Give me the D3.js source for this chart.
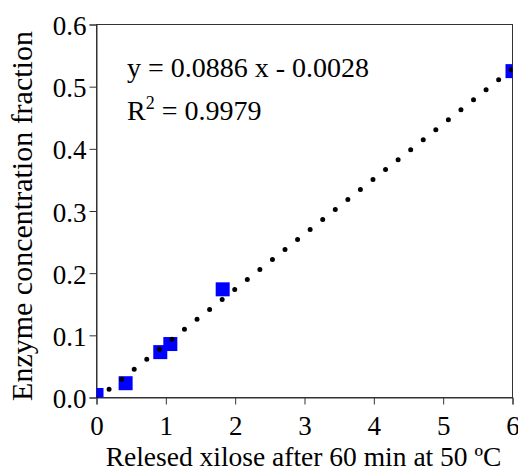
<!DOCTYPE html>
<html>
<head>
<meta charset="utf-8">
<script src="https://cdn.jsdelivr.net/npm/d3@7"></script>
</head>
<body style="margin:0">
<script>
const xValues = [0, 0.42, 0.92, 1.065, 1.82, 6];
const yValues = [0.004, 0.023, 0.073, 0.086, 0.174, 0.525];
const xTicks = [0, 1, 2, 3, 4, 5, 6];
const yTicks = [0, 0.1, 0.2, 0.3, 0.4, 0.5, 0.6];
const fitSlope = 0.0886;
const fitIntercept = -0.0028;
const equationLines = ["y = 0.0886 x - 0.0028", "R2 = 0.9979"];
const xTitle = "Relesed xilose after 60 min at 50 ºC";
const yTitle = "Enzyme concentration fraction";

const FONT = "Liberation Serif";
const W = 518, H = 470;
const L = 96.5, R = 512.5, T = 24.5, B = 397.5;

const svg = d3.select("body").append("svg").attr("width", W).attr("height", H)
  .style("display", "block");

const x = d3.scaleLinear().domain([0, 6]).range([L, R]);
const y = d3.scaleLinear().domain([0, 0.6]).range([B, T]);

svg.append("defs").append("clipPath").attr("id", "clip")
  .append("rect").attr("x", L).attr("y", T).attr("width", R - L).attr("height", B - T);

// frame
svg.append("rect").attr("x", L).attr("y", T).attr("width", R - L).attr("height", B - T)
  .attr("fill", "none").attr("stroke", "#333").attr("stroke-width", 1);

function serif(sel, size) {
  sel.attr("font-family", FONT).attr("font-size", size)
    .style("font-family", `"${FONT}"`).style("font-size", size + "px");
  return sel;
}

// axes
const xAxis = d3.axisBottom(x).tickValues(xTicks).tickSize(7).tickFormat(d3.format("d"));
const gx = svg.append("g").attr("transform", `translate(0,${B})`).call(xAxis);
serif(gx, 27);
gx.select(".domain").attr("stroke", "#333");
gx.selectAll(".tick line").attr("stroke", "#333");
serif(gx.selectAll(".tick text").attr("y", 37).attr("dy", 0).attr("fill", "#000"), 27);

const yAxis = d3.axisLeft(y).tickValues(yTicks).tickSize(7).tickFormat(d3.format(".1f"));
const gy = svg.append("g").attr("transform", `translate(${L},0)`).call(yAxis);
serif(gy, 27);
gy.select(".domain").attr("stroke", "#333");
gy.selectAll(".tick line").attr("stroke", "#333");
serif(gy.selectAll(".tick text").attr("x", -10).attr("dy", 10).attr("fill", "#000"), 27);

const plot = svg.append("g").attr("clip-path", "url(#clip)");

// points
const s = 14;
plot.selectAll("rect.pt").data(xValues.map((v, i) => [v, yValues[i]])).enter()
  .append("rect").attr("class", "pt")
  .attr("x", d => x(d[0]) - s / 2).attr("y", d => y(d[1]) - s / 2)
  .attr("width", s).attr("height", s).attr("fill", "#0000ff");

// trendline
const line = d3.line().x(d => x(d)).y(d => y(fitSlope * d + fitIntercept));
plot.append("path").datum([0, 6]).attr("d", line)
  .attr("fill", "none").attr("stroke", "#000").attr("stroke-width", 5)
  .attr("stroke-linecap", "round").attr("stroke-dasharray", "0,16.05");

// equation
serif(svg.append("text").attr("x", 127).attr("y", 77), 28).text(equationLines[0]);
const r2 = serif(svg.append("text").attr("x", 127).attr("y", 120), 28);
r2.append("tspan").text("R");
r2.append("tspan").attr("dy", -11).attr("font-size", 18).style("font-size", "18px").text("2");
r2.append("tspan").attr("dy", 11).text(" = 0.9979");

// titles
serif(svg.append("text").attr("x", (L + R) / 2 - 1).attr("y", 466).attr("text-anchor", "middle"), 27.5)
  .text(xTitle);
serif(svg.append("text").attr("transform", `translate(32,${(T + B) / 2 + 5}) rotate(-90)`)
  .attr("text-anchor", "middle"), 30).text(yTitle);
</script>
</body>
</html>
